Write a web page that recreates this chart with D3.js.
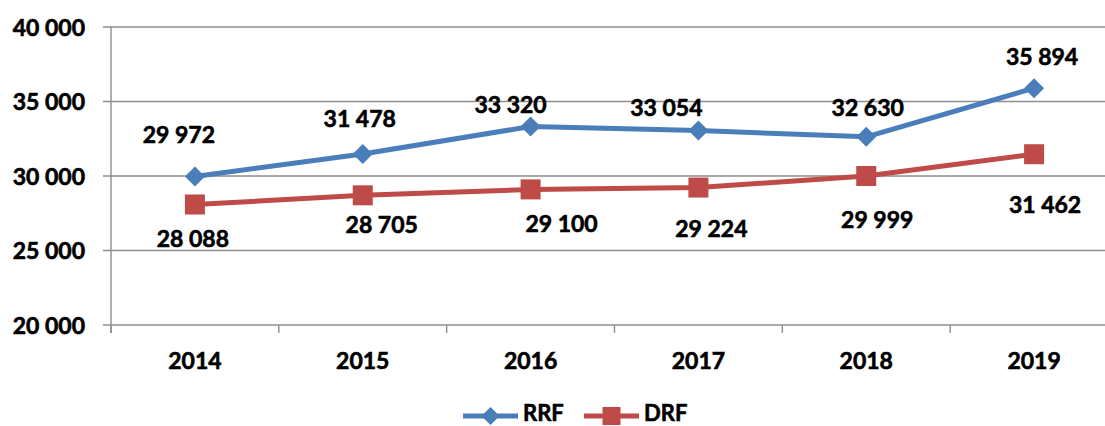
<!DOCTYPE html>
<html>
<head>
<meta charset="utf-8">
<script src="https://cdn.jsdelivr.net/npm/d3@7/dist/d3.min.js"></script>
<style>
  html, body { margin: 0; padding: 0; background: #fff; }
  svg { display: block; }
  text { font-family: Lato, "Open Sans", sans-serif; font-weight: bold; fill: #000; stroke: #000; stroke-width: 0.6px; }
</style>
</head>
<body>
<div id="chart"></div>
<script>
// ---- data ----
const categories = ["2014", "2015", "2016", "2017", "2018", "2019"];
const rrfValues = [29972, 31478, 33320, 33054, 32630, 35894];
const drfValues = [28088, 28705, 29100, 29224, 29999, 31462];
const yTicks = [20000, 25000, 30000, 35000, 40000];
const seriesNames = ["RRF", "DRF"];

// ---- layout (label offsets relative to point: [dx, dy of baseline]) ----
const rrfLabelOffsets = [[-16, -33], [-3, -27], [-20, -13.5], [-32, -14.5], [1.5, -21], [8, -23]];
const drfLabelOffsets = [[-2, 42.5], [19, 38], [31, 42.6], [13, 49], [11, 52], [11, 59]];

const W = 1105, H = 426;
const plotL = 111, plotR = 1118, plotT = 27, plotB = 325;
const blue = "#4a7ebb", red = "#be4b48", grid = "#8e8e8e";

const fmt = v => d3.format(",")(v).replace(/,/g, " ");

const svg = d3.select("#chart").append("svg").attr("width", W).attr("height", H);

const x = d3.scaleBand().domain(categories).range([plotL, plotR]);
const y = d3.scaleLinear().domain([20000, 40000]).range([plotB, plotT]);

// gridlines
svg.append("g").selectAll("line").data(yTicks).join("line")
  .attr("x1", plotL - 8).attr("x2", W)
  .attr("y1", d => y(d)).attr("y2", d => y(d))
  .attr("stroke", grid).attr("stroke-width", 1.4);

// y axis
const yAxis = d3.axisLeft(y).tickValues(yTicks).tickSize(0).tickPadding(26).tickFormat(fmt);
const gy = svg.append("g").attr("transform", `translate(${plotL},0)`).call(yAxis);
gy.select(".domain").remove();
gy.selectAll("text").style("font-size", "23px").attr("dy", "0.36em");
svg.append("line").attr("x1", plotL).attr("x2", plotL).attr("y1", plotT).attr("y2", plotB + 8)
  .attr("stroke", grid).attr("stroke-width", 1.4);

// x axis ticks at band boundaries
const bounds = categories.map(c => x(c)).concat([x(categories[categories.length - 1]) + x.bandwidth()]);
svg.append("g").selectAll("line").data(bounds).join("line")
  .attr("x1", d => d).attr("x2", d => d).attr("y1", plotB).attr("y2", plotB + 8)
  .attr("stroke", grid).attr("stroke-width", 1.4);
const xAxis = d3.axisBottom(x).tickSize(0).tickPadding(0);
const gx = svg.append("g").attr("transform", `translate(0,${plotB})`).call(xAxis);
gx.select(".domain").remove();
gx.selectAll("text").style("font-size", "23px").attr("y", 44).attr("dy", 0);

const cx = c => x(c) + x.bandwidth() / 2;
const line = d3.line().x((d, i) => cx(categories[i])).y(d => y(d));

// lines
svg.append("path").datum(rrfValues).attr("d", line).attr("fill", "none")
  .attr("stroke", blue).attr("stroke-width", 5).attr("stroke-linejoin", "round");
svg.append("path").datum(drfValues).attr("d", line).attr("fill", "none")
  .attr("stroke", red).attr("stroke-width", 5).attr("stroke-linejoin", "round");

// markers
const diamond = s => `M0,${-s}L${s},0L0,${s}L${-s},0Z`;
svg.append("g").selectAll("path").data(rrfValues).join("path")
  .attr("transform", (d, i) => `translate(${cx(categories[i])},${y(d)})`)
  .attr("d", diamond(10)).attr("fill", blue);
svg.append("g").selectAll("rect").data(drfValues).join("rect")
  .attr("x", (d, i) => cx(categories[i]) - 10).attr("y", d => y(d) - 10)
  .attr("width", 20).attr("height", 20).attr("fill", red);

// data labels
svg.append("g").selectAll("text").data(rrfValues).join("text")
  .attr("x", (d, i) => cx(categories[i]) + rrfLabelOffsets[i][0])
  .attr("y", (d, i) => y(d) + rrfLabelOffsets[i][1])
  .attr("text-anchor", "middle").style("font-size", "23px").text(fmt);
svg.append("g").selectAll("text").data(drfValues).join("text")
  .attr("x", (d, i) => cx(categories[i]) + drfLabelOffsets[i][0])
  .attr("y", (d, i) => y(d) + drfLabelOffsets[i][1])
  .attr("text-anchor", "middle").style("font-size", "23px").text(fmt);

// legend
const lg = svg.append("g");
const items = [
  { name: seriesNames[0], color: blue, x0: 463, type: "diamond" },
  { name: seriesNames[1], color: red, x0: 584, type: "square" }
];
const ly = 416;
items.forEach(it => {
  lg.append("line").attr("x1", it.x0).attr("x2", it.x0 + 55).attr("y1", ly).attr("y2", ly)
    .attr("stroke", it.color).attr("stroke-width", 5);
  if (it.type === "diamond") {
    lg.append("path").attr("transform", `translate(${it.x0 + 27.5},${ly})`).attr("d", diamond(9)).attr("fill", it.color);
  } else {
    lg.append("rect").attr("x", it.x0 + 27.5 - 9).attr("y", ly - 9).attr("width", 18).attr("height", 18).attr("fill", it.color);
  }
  lg.append("text").attr("x", it.x0 + 60).attr("y", ly + 5).style("font-size", "22px").text(it.name);
});
</script>
</body>
</html>
